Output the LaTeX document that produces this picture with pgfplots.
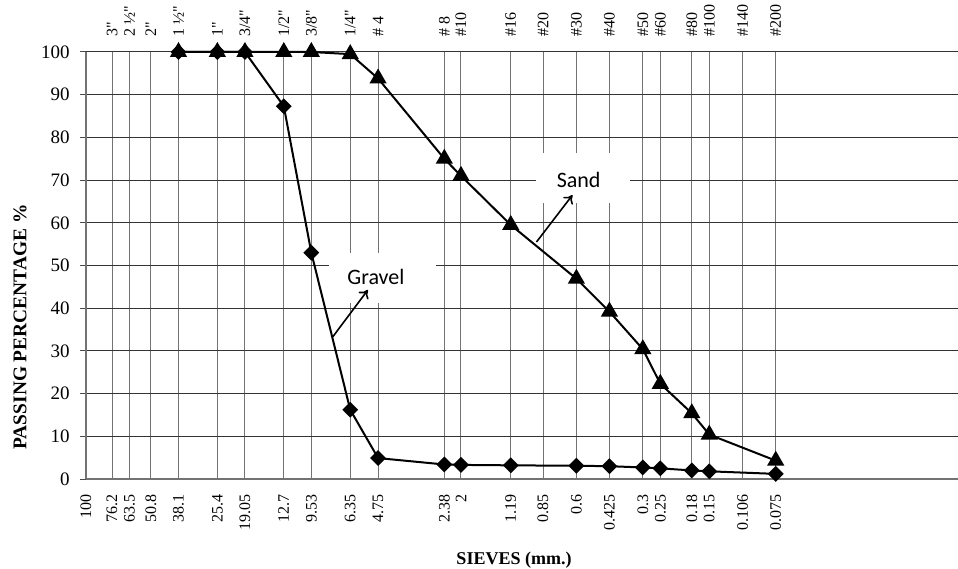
\documentclass[border=0pt]{standalone}
\usepackage{pgfplots}
\pgfplotsset{compat=1.18}
\usepackage{fontspec}
\setmainfont{Liberation Serif}
\newfontfamily\rawserif{Liberation Serif}
\newfontfamily\calibri{Carlito}
\usetikzlibrary{arrows.meta}
\begin{document}
\begin{tikzpicture}
\begin{axis}[
 at={(0,0)}, anchor=south west,
 width=436pt, height=213.5pt, scale only axis,
 xmode=log, x dir=reverse, xmin=0.0112, xmax=100,
 ymin=0, ymax=100,
 axis x line*=bottom, axis y line*=left,
 axis line style={black!55, line width=0.6pt, -},
 xtick={100,76.2,63.5,50.8,38.1,25.4,19.05,12.7,9.53,6.35,4.75,2.38,2,1.19,0.85,0.6,0.425,0.3,0.25,0.18,0.15,0.106,0.075},
 xticklabels={100,76.2,63.5,50.8,38.1,25.4,19.05,12.7,9.53,6.35,4.75,2.38,2,1.19,0.85,0.6,0.425,0.3,0.25,0.18,0.15,0.106,0.075},
 ytick={0,10,...,100},
 xmajorgrids, ymajorgrids,
 x grid style={black!55, line width=0.5pt},
 y grid style={black!80, line width=0.5pt},
 x tick style={draw=none},
 y tick style={black!70, line width=0.5pt},
 tick align=outside, major tick length=3pt,
 /pgf/number format/assume math mode=true,
 yticklabel style={font=\fontsize{9.5}{10}\selectfont, inner sep=0pt, xshift=-5pt},
 xticklabel style={font=\fontsize{8}{9}\selectfont, inner sep=0pt, rotate=90, anchor=east},
 xticklabel shift=4.5pt,
 clip=false,
]
\fill[white] (axis cs:7.94,52.9) rectangle (axis cs:2.59,41.2);
\fill[white] (axis cs:0.910,76.3) rectangle (axis cs:0.344,64.6);
% Gravel
\addplot[black, line width=1pt, mark=square*, mark size=2.3pt, mark options={rotate=45}] coordinates {
 (38.1,100) (25.4,100) (19.05,100) (12.7,87.3) (9.53,53) (6.35,16.2) (4.75,4.9)
 (2.38,3.4) (2,3.3) (1.19,3.2) (0.6,3.1) (0.425,3.0) (0.3,2.7) (0.25,2.5)
 (0.18,2.0) (0.15,1.8) (0.075,1.2)
};
% Sand
\addplot[black, line width=1pt, mark=triangle*, mark size=4pt] coordinates {
 (38.1,100) (25.4,100) (19.05,100) (12.7,100) (9.53,100) (6.35,99.5) (4.75,93.8)
 (2.38,75) (2,71) (1.19,59.5) (0.6,46.9) (0.425,39.2) (0.3,30.4) (0.25,22.3)
 (0.18,15.4) (0.15,10.4) (0.075,4.3)
};
\node[font=\calibri\fontsize{11}{12}\selectfont] at (axis cs:4.86,47.3) {Gravel};
\node[font=\calibri\fontsize{11}{12}\selectfont] at (axis cs:0.586,70.0) {Sand};
\draw[-{To[length=4pt,width=6pt]}, line width=0.8pt] (axis cs:7.62,33.3) -- (axis cs:5.28,44.3);
\draw[-{To[length=4pt,width=6pt]}, line width=0.8pt] (axis cs:0.910,55.5) -- (axis cs:0.625,66.5);
\end{axis}
\begin{axis}[
 at={(0,0)}, anchor=south west,
 width=436pt, height=213.5pt, scale only axis,
 xmode=log, x dir=reverse, xmin=0.0112, xmax=100,
 ymin=0, ymax=100,
 hide y axis, axis x line*=top, axis line style={draw=none},
 xtick={76.2,63.5,50.8,38.1,25.4,19.05,12.7,9.53,6.35,4.75,2.38,2,1.19,0.85,0.6,0.425,0.3,0.25,0.18,0.15,0.106,0.075},
 xticklabels={{3"},{2 ½"},{2"},{1 ½"},{1"},{3/4"},{1/2"},{3/8"},{1/4"},{\# 4},{\# 8},{\#10},{\#16},{\#20},{\#30},{\#40},{\#50},{\#60},{\#80},{\#100},{\#140},{\#200}},
 x tick style={draw=none},
 xticklabel style={font=\rawserif\fontsize{8}{9}\selectfont, inner sep=0pt, rotate=90, anchor=west},
 xticklabel shift=7.5pt,
]
\addplot[draw=none] coordinates {(1,0)};
\end{axis}
\node[rotate=90, font=\bfseries\fontsize{9.7}{11}\selectfont] at (-33pt,76pt) {PASSING PERCENTAGE \%};
\node[font=\bfseries\fontsize{9}{10}\selectfont] at (214pt,-40.5pt) {SIEVES (mm.)};
\pgfresetboundingbox
\path[use as bounding box] (-43pt,-44.5pt) rectangle (436pt,239.5pt);
\end{tikzpicture}
\end{document}
